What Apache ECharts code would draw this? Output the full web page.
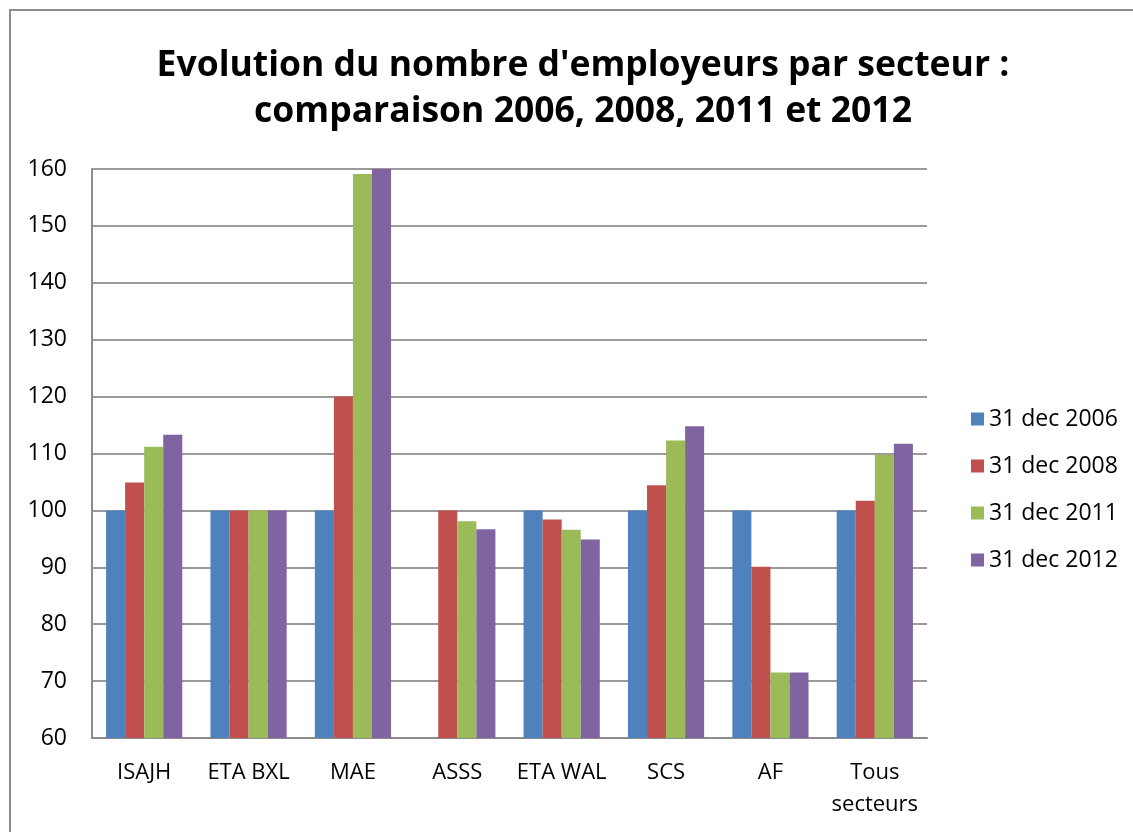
<!DOCTYPE html>
<html>
<head>
<meta charset="utf-8">
<script src="https://cdn.jsdelivr.net/npm/echarts@6/dist/echarts.min.js"></script>
<style>
html,body{margin:0;padding:0;background:#fff;}
#chart{width:1133px;height:832px;}
</style>
</head>
<body>
<div id="chart"></div>
<script>
const categories = ['ISAJH', 'ETA BXL', 'MAE', 'ASSS', 'ETA WAL', 'SCS', 'AF', 'Tous\nsecteurs'];
const seriesNames = ['31 dec 2006', '31 dec 2008', '31 dec 2011', '31 dec 2012'];
const dec2006 = [100, 100, 100, null, 100, 100, 100, 100];
const dec2008 = [104.9, 100, 120, 100, 98.4, 104.4, 90.1, 101.7];
const dec2011 = [111.2, 100, 159.1, 98.1, 96.6, 112.3, 71.5, 109.8];
const dec2012 = [113.3, 100, 160, 96.7, 94.9, 114.8, 71.5, 111.7];
const yTicks = { min: 60, max: 160, interval: 10 };
const colors = ['#4F81BD', '#C0504D', '#9BBB59', '#8064A2'];

const font = "'Open Sans', 'Liberation Sans', sans-serif";
const chart = echarts.init(document.getElementById('chart'));
const values = [dec2006, dec2008, dec2011, dec2012];
chart.setOption({
  animation: false,
  backgroundColor: '#fff',
  color: colors,
  graphic: [{
    type: 'rect',
    shape: { x: 10, y: 10, width: 1140, height: 840 },
    style: { fill: 'none', stroke: '#8c8c8c', lineWidth: 2 },
    silent: true
  }],
  title: {
    text: "Evolution du nombre d'employeurs par secteur :\ncomparaison 2006, 2008, 2011 et 2012",
    left: 578,
    textAlign: 'center',
    top: 38,
    textStyle: { fontFamily: font, fontWeight: 'bold', fontSize: 35.5, lineHeight: 46, color: '#000' }
  },
  legend: {
    orient: 'vertical',
    left: 966,
    top: 402,
    itemWidth: 13,
    itemHeight: 13,
    itemGap: 23,
    icon: 'rect',
    textStyle: { fontFamily: font, fontSize: 23, lineHeight: 24, color: '#000' },
    data: seriesNames
  },
  grid: { left: 92, right: 206, top: 169, bottom: 94, containLabel: false, outerBoundsMode: 'none' },
  xAxis: {
    type: 'category',
    data: categories,
    axisLine: { show: true, lineStyle: { color: '#8c8c8c', width: 2 } },
    axisTick: { show: false },
    axisLabel: { interval: 0, fontFamily: font, fontSize: 22, color: '#000', margin: 19, lineHeight: 32 }
  },
  yAxis: {
    type: 'value',
    min: yTicks.min,
    max: yTicks.max,
    interval: yTicks.interval,
    axisLine: { show: true, lineStyle: { color: '#8c8c8c', width: 2 } },
    axisTick: { show: false },
    axisLabel: { fontFamily: font, fontSize: 23, color: '#000', margin: 25 },
    splitLine: { lineStyle: { color: '#9a9a9a', width: 2 } }
  },
  series: seriesNames.map((name, i) => ({
    name: name,
    type: 'bar',
    data: values[i],
    barGap: '0%',
    barCategoryGap: '27%',
    itemStyle: { color: colors[i] }
  }))
});
</script>
</body>
</html>
